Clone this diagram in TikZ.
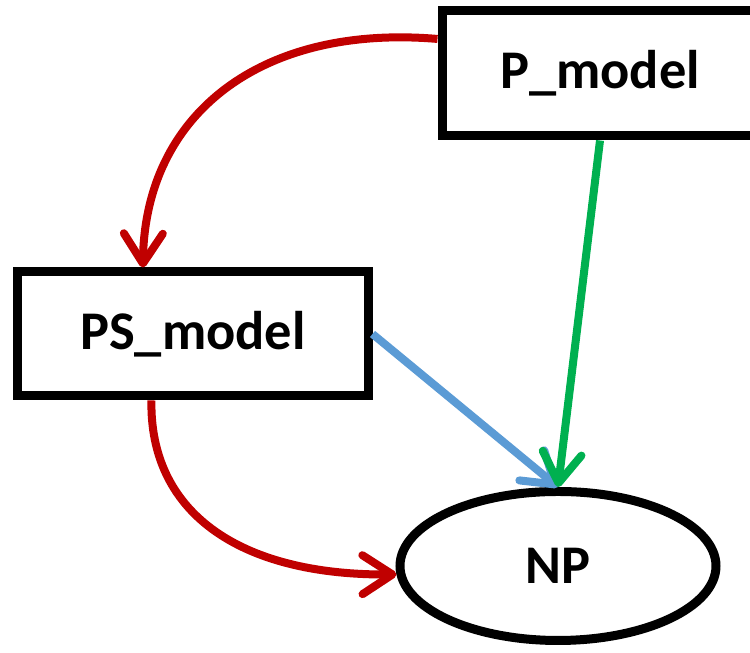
\documentclass[tikz,border=0pt]{standalone}
\usepackage{fontspec}
\setmainfont{Carlito}
\usetikzlibrary{arrows.meta,shapes.geometric}

\definecolor{darkred}{HTML}{C00000}
\definecolor{lineblue}{HTML}{5B9BD5}
\definecolor{linegreen}{HTML}{00B050}

\tikzset{
	model/.style={draw, line width=0.09cm, rectangle, minimum height=1.25cm,
		font=\fontsize{15.5}{18}\selectfont\bfseries},
	oval/.style={draw, line width=0.09cm, ellipse, minimum width=3.16cm,
		minimum height=1.49cm, font=\fontsize{15.5}{18}\selectfont\bfseries},
	link/.style={line width=0.08cm, -{Straight Barb[length=3mm,width=3.9mm,round]}},
}

\begin{document}
\begin{tikzpicture}
	%\draw[lightgray] (0,0) grid (7.5,6.53);
	\clip (0,0) rectangle (7.5,6.53);
	\node[model, minimum width=3.16cm] (Pmodel) at (6.00,5.795) {P\_model};
	\node[model, minimum width=3.50cm, minimum height=1.24cm] (PSmodel) at (1.93,3.19) {PS\_model};
	\node[oval] (NP) at (5.58,0.87) {NP};
	% curved ones
	\draw[link, darkred] (Pmodel.168) .. controls +(-1.78,0.15) and +(0.02,1.52) .. (PSmodel.127);
	\draw[link, darkred] (PSmodel.238) .. controls +(-0.02,-1.10) and +(-1.60,-0.01) .. (NP.183);
	% straight ones
	\draw[link, lineblue] (PSmodel.east) -- (NP.north);
	\draw[link, linegreen] (Pmodel.south) -- (NP.north);
\end{tikzpicture}
\end{document}
